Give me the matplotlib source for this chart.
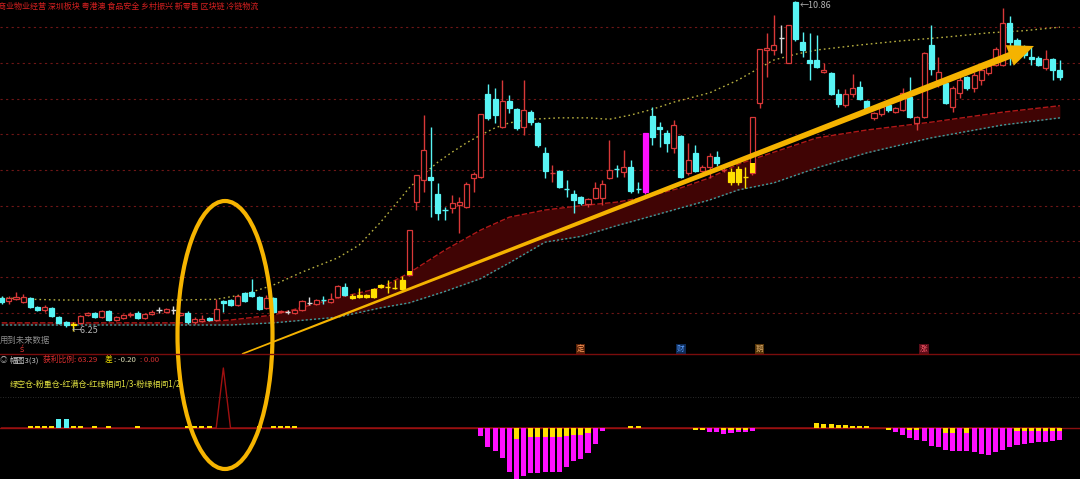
import numpy as np
import matplotlib.pyplot as plt
from matplotlib.patches import Ellipse, Polygon

plt.rcParams['font.family'] = ['Noto Sans CJK SC', 'DejaVu Sans']

# daily K-line data
opens = [6.71, 6.67, 6.69, 6.65, 6.71, 6.58, 6.54, 6.57, 6.44, 6.37,
         6.33, 6.36, 6.47, 6.50, 6.44, 6.53, 6.40, 6.43, 6.47, 6.50,
         6.43, 6.48, 6.54, 6.51, 6.54, 6.47, 6.50, 6.37, 6.39, 6.43,
         6.40, 6.67, 6.68, 6.61, 6.78, 6.79, 6.72, 6.57, 6.71, 6.51,
         6.51, 6.50, 6.54, 6.64, 6.62, 6.68, 6.65, 6.72, 6.86, 6.74,
         6.75, 6.75, 6.72, 6.86, 6.86, 6.85, 6.84, 7.03, 8.05, 8.36,
         8.40, 8.16, 7.94, 7.97, 8.01, 7.98, 8.39, 8.40, 9.56, 9.49,
         9.10, 9.47, 9.35, 9.10, 9.31, 9.16, 8.74, 8.465, 8.49, 8.23,
         8.16, 8.12, 8.02, 8.11, 8.11, 8.39, 8.51, 8.47, 8.54, 8.23,
         8.19, 9.26, 9.10, 9.02, 8.81, 8.98, 8.46, 8.74, 8.49, 8.54,
         8.68, 8.495, 8.47, 8.51, 8.40, 8.46, 9.44, 10.18, 10.18, 10.35,
         10.00, 10.85, 10.29, 10.04, 10.04, 9.87, 9.86, 9.56, 9.41, 9.56,
         9.66, 9.47, 9.23, 9.28, 9.41, 9.31, 9.34, 9.52, 9.16, 9.24,
         10.25, 9.76, 9.72, 9.38, 9.58, 9.80, 9.65, 9.76, 9.86, 9.97,
         9.97, 10.56, 10.32, 10.22, 10.08, 10.07, 9.93, 10.05, 9.90]
closes = [6.65, 6.71, 6.72, 6.72, 6.58, 6.54, 6.58, 6.46, 6.36, 6.33,
          6.34, 6.46, 6.50, 6.44, 6.53, 6.40, 6.44, 6.47, 6.48, 6.43,
          6.48, 6.51, 6.54, 6.55, 6.54, 6.50, 6.37, 6.41, 6.41, 6.40,
          6.55, 6.64, 6.61, 6.74, 6.67, 6.74, 6.55, 6.71, 6.51, 6.53,
          6.51, 6.54, 6.67, 6.64, 6.68, 6.675, 6.69, 6.88, 6.75, 6.71,
          6.72, 6.72, 6.84, 6.89, 6.86, 6.85, 6.96, 7.66, 8.43, 8.78,
          8.36, 7.90, 7.935, 8.04, 8.05, 8.30, 8.44, 9.28, 9.23, 9.27,
          9.47, 9.37, 9.09, 9.34, 9.17, 8.85, 8.49, 8.47, 8.26, 8.225,
          8.08, 8.04, 8.09, 8.25, 8.30, 8.50, 8.505, 8.54, 8.21, 8.225,
          9.02, 8.96, 9.07, 8.88, 9.13, 8.40, 8.64, 8.49, 8.54, 8.70,
          8.60, 8.50, 8.33, 8.33, 8.40, 9.24, 10.19, 10.21, 10.25, 10.35,
          10.53, 10.33, 10.18, 10.00, 9.94, 9.90, 9.56, 9.42, 9.56, 9.65,
          9.49, 9.37, 9.30, 9.38, 9.34, 9.37, 9.58, 9.24, 9.24, 10.14,
          9.91, 9.87, 9.44, 9.65, 9.76, 9.65, 9.83, 9.90, 9.96, 10.19,
          10.56, 10.29, 10.21, 10.11, 10.05, 9.97, 10.05, 9.90, 9.80]
highs = [6.74, 6.74, 6.79, 6.76, 6.72, 6.60, 6.61, 6.58, 6.46, 6.39,
         6.37, 6.47, 6.51, 6.51, 6.54, 6.54, 6.46, 6.48, 6.51, 6.53,
         6.50, 6.54, 6.58, 6.57, 6.60, 6.51, 6.53, 6.44, 6.47, 6.44,
         6.69, 6.68, 6.69, 6.75, 6.79, 6.97, 6.74, 6.75, 6.72, 6.54,
         6.54, 6.55, 6.68, 6.72, 6.69, 6.74, 6.78, 6.89, 6.92, 6.76,
         6.85, 6.76, 6.85, 6.90, 6.96, 6.96, 7.02, 7.66, 8.43, 9.27,
         9.10, 8.32, 7.98, 8.15, 8.12, 8.33, 8.47, 9.28, 9.70, 9.65,
         9.76, 9.55, 9.37, 9.76, 9.34, 9.17, 8.82, 8.57, 8.50, 8.36,
         8.22, 8.14, 8.11, 8.33, 8.36, 8.92, 8.57, 8.78, 8.64, 8.33,
         9.02, 9.38, 9.17, 9.06, 9.20, 8.99, 8.88, 8.85, 8.57, 8.74,
         8.77, 8.53, 8.53, 8.56, 8.54, 9.24, 10.19, 10.42, 10.67, 10.53,
         10.53, 10.86, 10.43, 10.42, 10.39, 10.00, 9.87, 9.63, 9.63, 9.84,
         9.75, 9.48, 9.31, 9.40, 9.44, 9.38, 9.65, 9.80, 9.26, 10.15,
         10.53, 10.08, 9.73, 9.68, 9.83, 9.82, 9.87, 9.97, 9.98, 10.22,
         10.77, 10.66, 10.35, 10.25, 10.24, 10.10, 10.18, 10.07, 10.04]
lows = [6.62, 6.62, 6.68, 6.64, 6.57, 6.53, 6.51, 6.44, 6.34, 6.30,
        6.25, 6.34, 6.46, 6.43, 6.43, 6.39, 6.39, 6.41, 6.44, 6.41,
        6.41, 6.47, 6.50, 6.50, 6.48, 6.46, 6.34, 6.34, 6.37, 6.39,
        6.39, 6.51, 6.60, 6.60, 6.65, 6.72, 6.54, 6.55, 6.50, 6.50,
        6.48, 6.48, 6.53, 6.61, 6.61, 6.62, 6.64, 6.71, 6.74, 6.69,
        6.71, 6.71, 6.71, 6.85, 6.78, 6.84, 6.82, 7.02, 7.94, 8.19,
        7.84, 7.80, 7.80, 7.90, 7.62, 7.97, 8.19, 8.39, 9.20, 9.16,
        9.09, 9.30, 9.06, 8.99, 9.13, 8.82, 8.39, 8.33, 8.25, 8.12,
        7.90, 8.01, 7.98, 8.09, 8.01, 8.37, 8.40, 8.40, 8.18, 8.18,
        8.16, 8.85, 8.82, 8.75, 8.74, 8.39, 8.43, 8.47, 8.47, 8.39,
        8.56, 8.47, 8.29, 8.29, 8.25, 8.43, 9.37, 9.80, 10.11, 10.14,
        10.00, 10.31, 10.08, 9.76, 9.93, 9.86, 9.55, 9.38, 9.38, 9.52,
        9.48, 9.34, 9.20, 9.26, 9.31, 9.30, 9.33, 9.23, 9.06, 9.23,
        9.83, 9.66, 9.42, 9.31, 9.51, 9.62, 9.59, 9.69, 9.83, 9.96,
        9.96, 9.97, 10.15, 10.07, 9.97, 9.96, 9.90, 9.76, 9.76]

yellow_idx = [10, 49, 50, 51, 52, 53, 54, 55, 56, 102, 103, 104]
magenta_idx = [90]
half_idx = [57, 105]          # red candles with a yellow foot
half_top = [7.09, 8.60]

# dotted line (uses future data)
ma_idx = [0, 4, 8, 25, 30, 34, 38, 42, 45, 47, 50, 53, 55, 57, 59, 61, 63, 65, 67, 69,
          71, 74, 78, 82, 85, 88, 91, 94, 99, 103, 106, 108, 111, 114, 120, 126, 132, 138, 143, 148]
ma_val = [6.71, 6.69, 6.68, 6.68, 6.69, 6.76, 6.89, 7.07, 7.19, 7.27, 7.45, 7.77, 8.01, 8.25, 8.44,
          8.61, 8.75, 8.88, 8.99, 9.09, 9.16, 9.21, 9.23, 9.23, 9.21, 9.27, 9.35, 9.45, 9.58, 9.76,
          9.93, 10.04, 10.12, 10.18, 10.25, 10.31, 10.36, 10.42, 10.45, 10.50]

# dark red band
band_idx = [0, 25, 32, 38, 47, 53, 57, 62, 67, 71, 76, 81, 86, 90, 95, 99, 103, 108, 114, 121, 130, 140, 148]
band_top = [6.36, 6.36, 6.40, 6.47, 6.71, 6.85, 7.06, 7.38, 7.66, 7.84, 7.94, 8.00, 8.05, 8.12,
            8.25, 8.39, 8.58, 8.75, 8.95, 9.06, 9.17, 9.31, 9.40]
band_bot = [6.33, 6.33, 6.33, 6.36, 6.44, 6.57, 6.64, 6.80, 6.98, 7.20, 7.49, 7.57, 7.72, 7.83,
            7.97, 8.08, 8.22, 8.32, 8.53, 8.74, 8.95, 9.13, 9.23]

signal_idx = [81, 95, 106, 129]
signal_txt = ['定', '财', '鹅', '涨']
signal_fg = ['#ff9a5a', '#5a9cff', '#e0b070', '#ff5a6a']
signal_bg = ['#5a2208', '#0c2a55', '#553508', '#5a0c18']

# lower indicator panel
neg_idx = [67, 68, 69, 70, 71, 72, 73, 74, 75, 76, 77, 78, 79, 80, 81, 82, 83, 84,
           97, 98, 99, 100, 101, 102, 103, 104, 105,
           124, 125, 126, 127, 128, 129, 130, 131, 132, 133, 134, 135, 136, 137, 138,
           139, 140, 141, 142, 143, 144, 145, 146, 147, 148]
neg_val = [8, 19, 23, 30, 44, 51, 48, 45, 45, 44, 44, 44, 39, 33, 31, 25, 16, 3,
           2, 2, 4, 4, 6, 5, 4, 4, 3,
           2, 4, 7, 10, 12, 13, 18, 19, 22, 23, 23, 23, 24, 26, 27,
           24, 22, 19, 17, 16, 15, 14, 14, 13, 12]
neg_yel = [0, 0, 0, 0, 0, 11, 0, 9, 9, 9, 9, 9, 8, 7, 7, 5, 0, 0,
           2, 2, 0, 0, 2, 2, 2, 2, 0,
           2, 0, 0, 2, 2, 0, 0, 0, 5, 5, 0, 5, 0, 0, 0,
           0, 0, 0, 3, 3, 3, 3, 3, 3, 3]
pos_idx = [4, 5, 6, 7, 10, 11, 13, 15, 19, 26, 27, 28, 29, 36, 38, 39, 40, 41,
           88, 89, 114, 115, 116, 117, 118, 119, 120, 121]
pos_val = [2.5, 2.5, 2.5, 2.5, 2.5, 2.5, 2.5, 2.5, 2.5, 2.5, 2.5, 2.5, 2.5, 2.5, 2.5, 2.5, 2.5, 2.5,
           2.5, 2.5, 5, 4, 4, 3, 3, 2, 2, 2]
cyan_idx = [8, 9]
cyan_val = [9, 9]
spike_x = [0, 30, 31, 32, 148]
spike_y = [0, 0, 60, 0, 0]

RED = '#d83838'
CYAN = '#58f4f4'
YEL = '#ffe000'
MAG = '#ff10ff'
WHITE = '#dcdcdc'

W, H = 1080, 479
fig = plt.figure(figsize=(W / 100, H / 100), dpi=100, facecolor='black')
xlim = (-1.7 / 7.15, (W - 1.7) / 7.15)

ax = fig.add_axes([0, 126 / H, 1, 353 / H])
ax.set_facecolor('black')
ax.set_xlim(*xlim)
ax.set_ylim(10.88 - 0.014 * 353, 10.88)
ax.axis('off')

for lv in np.arange(6.5, 10.51, 0.5):
    ax.axhline(lv, color='#6e1616', lw=0.8, ls=(0, (2, 3)), zorder=0.5)

ax.fill_between(band_idx, band_bot, band_top, color='#400404', lw=0, zorder=1)
ax.plot(band_idx, band_top, color='#b01818', lw=1, ls=(0, (4, 1.5)), zorder=1.5)
ax.plot(band_idx, band_bot, color='#3c9c9c', lw=1, ls=(0, (1.5, 1.5)), zorder=1.5)
ax.plot(ma_idx, ma_val, color='#b8b040', lw=1, ls=(0, (1.2, 2.2)), zorder=2)

n = len(opens)
o = np.array(opens); c = np.array(closes)
hi = np.array(highs); lo = np.array(lows)
cols = []
for i in range(n):
    if i in yellow_idx:
        cols.append(YEL)
    elif i in magenta_idx:
        cols.append(MAG)
    elif c[i] > o[i]:
        cols.append(RED)
    elif c[i] < o[i]:
        cols.append(CYAN)
    else:
        cols.append(WHITE)

ax.vlines(np.arange(n), lo, hi, colors=cols, lw=1, zorder=3)
bw = 0.7
for i in range(n):
    body = abs(c[i] - o[i])
    if body < 0.008:
        ax.hlines(o[i], i - bw / 2, i + bw / 2, colors=cols[i], lw=1, zorder=4)
        continue
    bottom = min(o[i], c[i])
    hollow = cols[i] == RED
    ax.bar(i, max(body, 0.02), bottom=bottom, width=bw,
           facecolor='black' if hollow else cols[i],
           edgecolor=cols[i], lw=0.9, zorder=4)

for i, t in zip(half_idx, half_top):
    ax.bar(i, t - o[i], bottom=o[i], width=bw, color=YEL, lw=0, zorder=4.5)

ax.text(9.8, 6.25, '←6.25', color='#b4b4b4', fontsize=6.5, va='center', ha='left', zorder=6)
ax.text(111.6, 10.87, '←10.86', color='#b4b4b4', fontsize=6.5, va='top', ha='left', zorder=6)

for i, t, fg, bg in zip(signal_idx, signal_txt, signal_fg, signal_bg):
    ax.text(i, 5.995, t, color=fg, fontsize=5.5, ha='center', va='center', zorder=6,
            bbox=dict(boxstyle='square,pad=0.1', fc=bg, ec='none'))

# lower panel
ax2 = fig.add_axes([0, 0, 1, 126 / H])
ax2.set_facecolor('black')
ax2.set_xlim(*xlim)
ax2.set_ylim(-51, 75)
ax2.axis('off')
ax2.axhline(0, color='#8a1010', lw=1, zorder=1)
ax2.axhline(31, color='#3a3a3a', lw=0.6, ls=(0, (1, 2)), zorder=0.5)
ax2.plot(spike_x, spike_y, color='#a01010', lw=1, zorder=2)
ax2.bar(neg_idx, [-v for v in neg_val], width=bw, color=MAG, lw=0, zorder=3)
ax2.bar(neg_idx, [-v for v in neg_yel], width=bw, color=YEL, lw=0, zorder=3.5)
ax2.bar(pos_idx, pos_val, width=bw, color=YEL, lw=0, zorder=3)
ax2.bar(cyan_idx, cyan_val, width=bw, color=CYAN, lw=0, zorder=3)

# overlay in pixel space: texts, separator, hand-drawn ellipse and arrow
ov = fig.add_axes([0, 0, 1, 1])
ov.set_xlim(0, W)
ov.set_ylim(H, 0)
ov.axis('off')
ov.patch.set_alpha(0)

ov.plot([0, W], [354, 354], color='#7a0c0c', lw=1)
ov.text(-2, 6, '商业物业经营 深圳板块 粤港澳 食品安全 乡村振兴 新零售 区块链 冷链物流',
        color='#d42020', fontsize=5.8, va='center', ha='left')
ov.text(0, 340, '用到未来数据', color='#8c8c8c', fontsize=6, va='center', ha='left')
ov.text(22, 350, 'ś', color='#d03030', fontsize=6, va='center', ha='center')
ov.text(0, 360, '◎', color='#9a9a9a', fontsize=5.5, va='center', ha='left')
ov.text(9, 360, '幅图3(3)', color='#c8c8c8', fontsize=5.6, va='center', ha='left')
ov.text(43, 360, '获利比例: 63.29', color='#e03030', fontsize=5.6, va='center', ha='left')
ov.text(105, 360, '差', color='#e8d800', fontsize=5.6, va='center', ha='left')
ov.text(114, 360, ': -0.20', color='#d8d8b0', fontsize=5.6, va='center', ha='left')
ov.text(140, 360, ': 0.00', color='#d03030', fontsize=5.6, va='center', ha='left')
ov.text(10, 384, '绿空仓-粉重仓-红满仓-红绿相间1/3-粉绿相间1/2', color='#e0e040',
        fontsize=5.8, va='center', ha='left')

ov.add_patch(Ellipse((225, 335), 95, 268, fill=False, ec='#f6b400', lw=3))

start = np.array([242.0, 354.0])
tip = np.array([1034.0, 46.0])
u = (tip - start) / np.hypot(*(tip - start))
nrm = np.array([-u[1], u[0]])
base = tip - 26 * u
arrow = [start + 0.8 * nrm, base + 3.5 * nrm, base + 11 * nrm, tip,
         base - 11 * nrm, base - 3.5 * nrm, start - 0.8 * nrm]
ov.add_patch(Polygon(arrow, closed=True, fc='#f5b300', ec='none'))

fig.savefig('out.png', dpi=100, facecolor='black')
